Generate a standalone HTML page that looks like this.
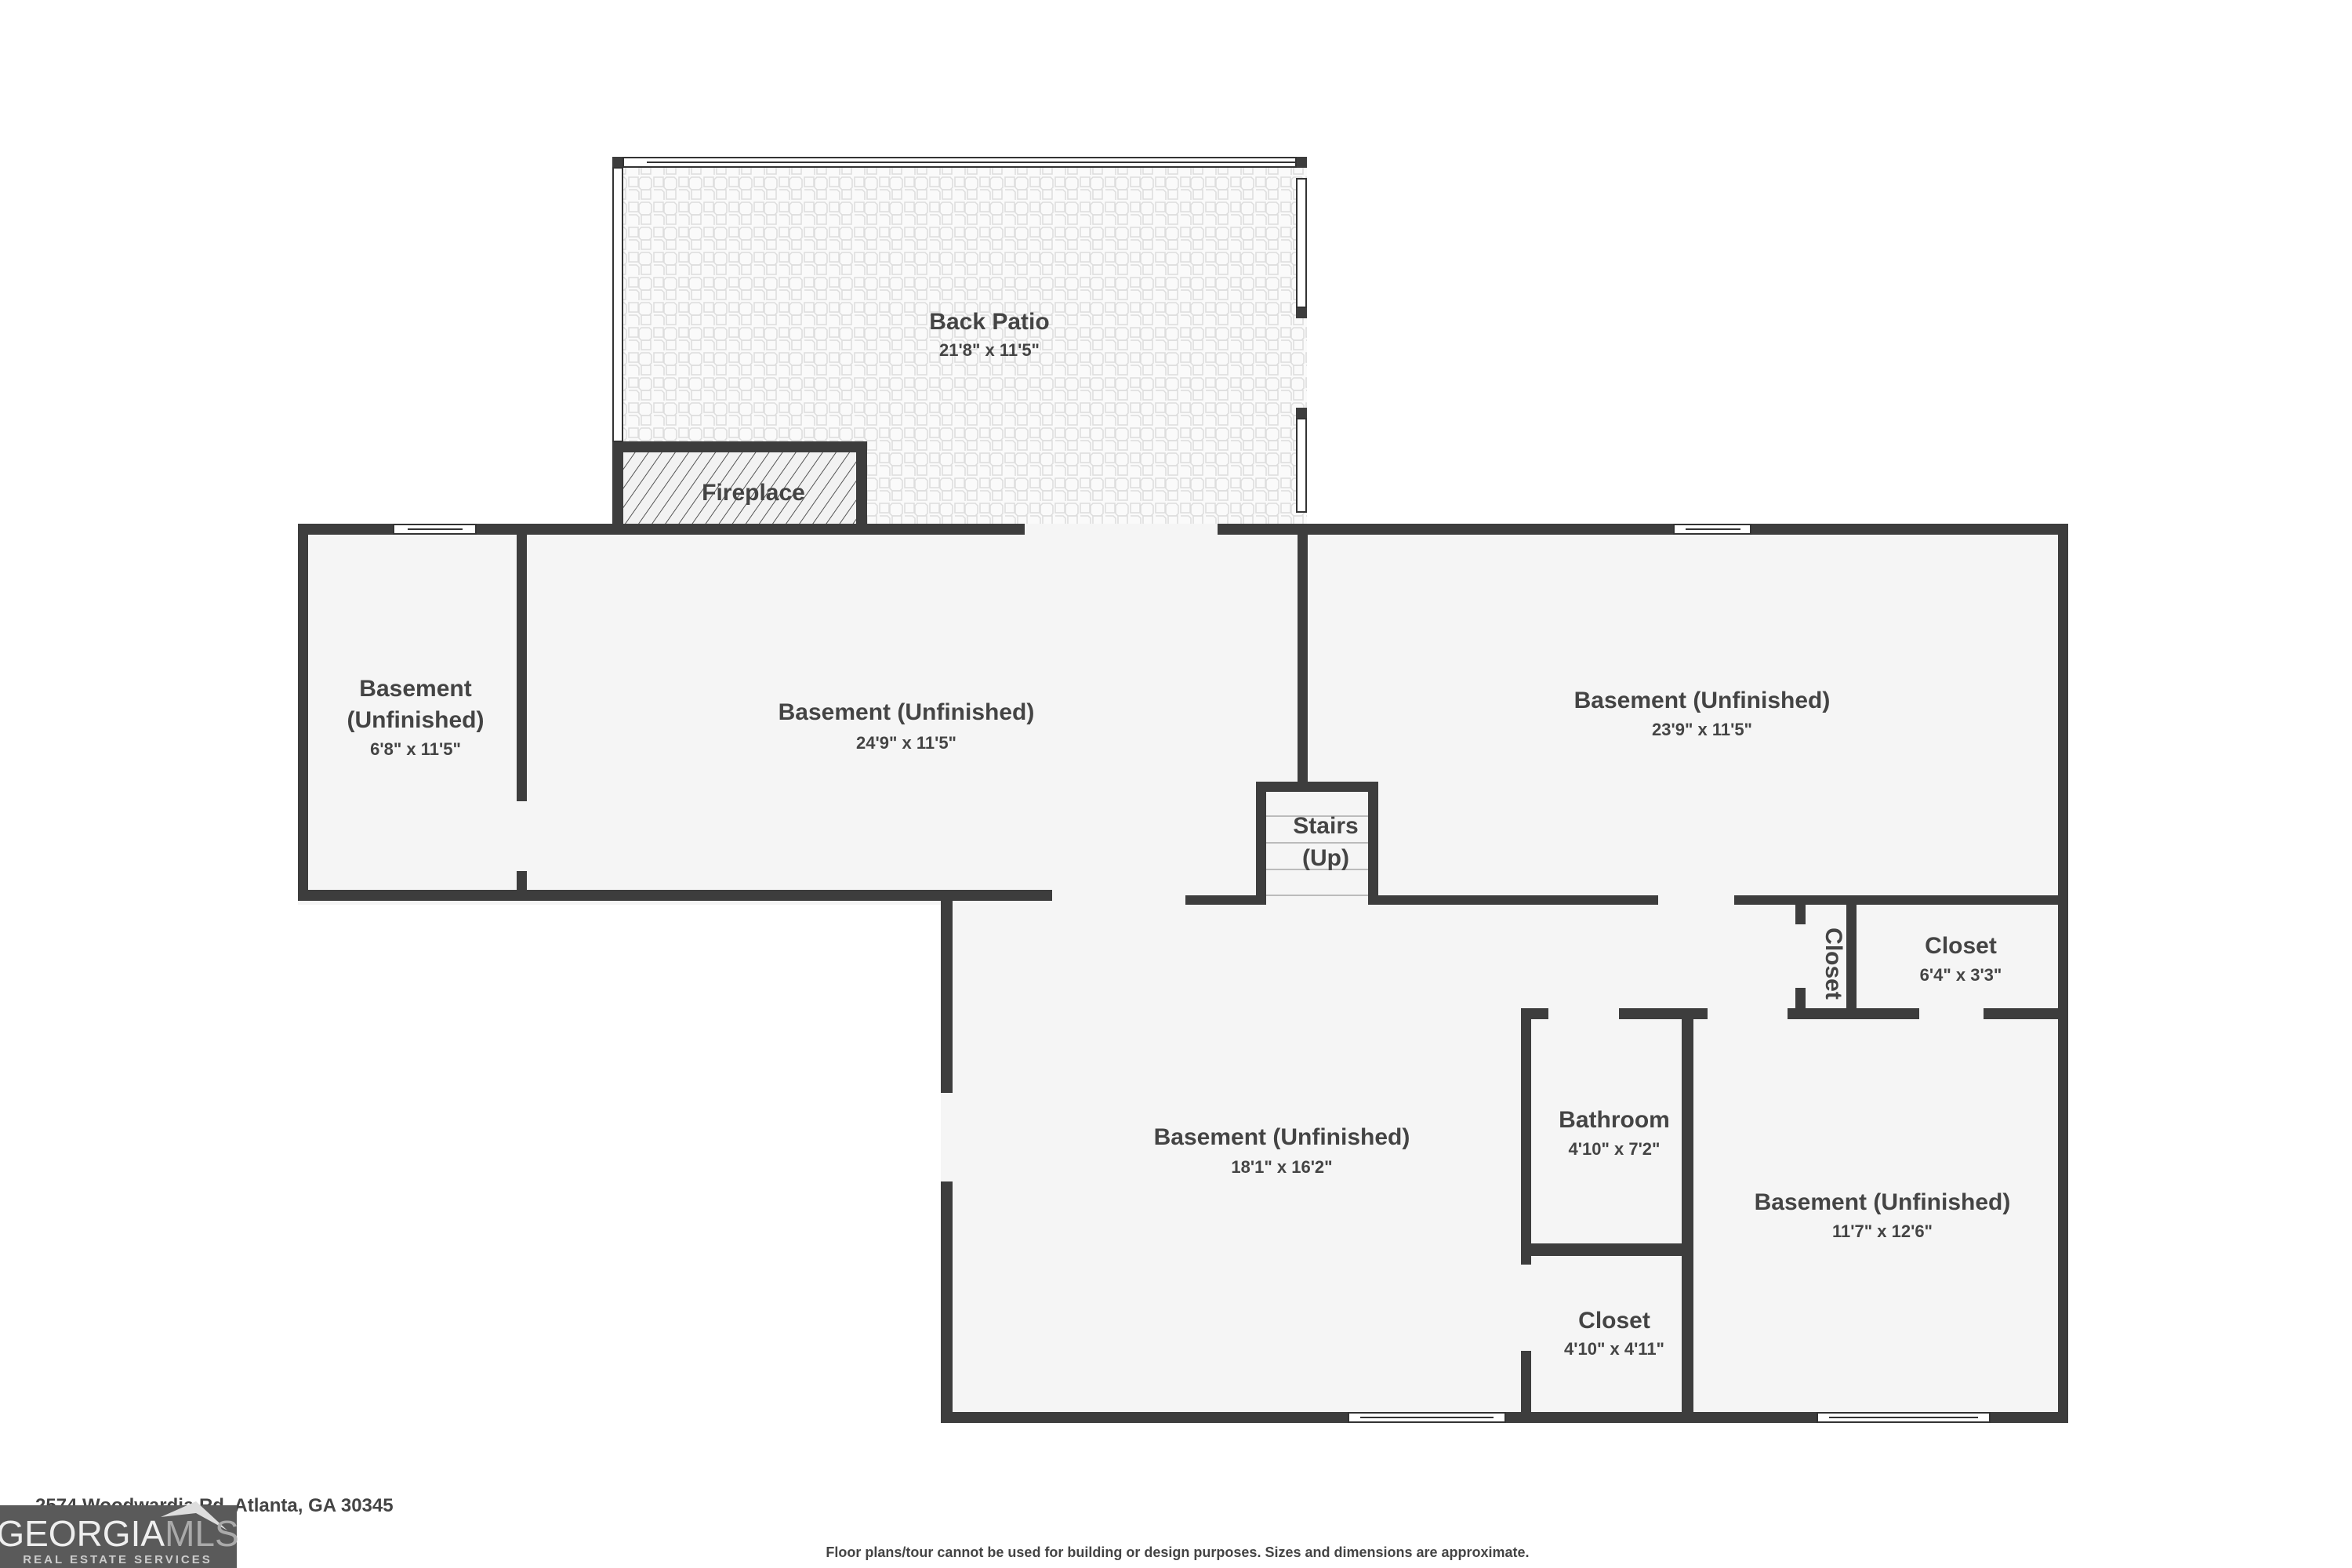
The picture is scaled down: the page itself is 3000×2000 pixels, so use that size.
<!DOCTYPE html>
<html><head><style>
html,body{margin:0;padding:0;background:#fff;}
svg{display:block;}
text{font-family:"Liberation Sans",sans-serif;font-weight:bold;fill:#444;text-anchor:middle;}
</style></head><body>
<svg width="3000" height="2000" viewBox="0 0 3000 2000" xmlns="http://www.w3.org/2000/svg">
<defs>
<pattern id="tile" width="32" height="32" patternUnits="userSpaceOnUse">
<rect width="32" height="32" fill="#fafafa"/>
<rect x="2" y="2" width="12" height="12" fill="none" stroke="#ddd" stroke-width="1.5"/>
<path d="M18 2 h10 l3 3 v10 l-3 3 h-10 l-3 -3 v-10z" fill="none" stroke="#ddd" stroke-width="1.5"/>
<rect x="18" y="18" width="12" height="12" fill="none" stroke="#ddd" stroke-width="1.5"/>
<path d="M2 18 h10 l3 3 v10" fill="none" stroke="#ddd" stroke-width="1.5"/>
</pattern>
<pattern id="hatch" width="14" height="14" patternUnits="userSpaceOnUse" patternTransform="rotate(35)">
<rect width="14" height="14" fill="#f2f2f2"/>
<line x1="0" y1="0" x2="0" y2="14" stroke="#555" stroke-width="2"/>
</pattern>
</defs>
<!-- floors -->
<rect x="781" y="200" width="886" height="480" fill="url(#tile)"/>
<rect x="380" y="668" width="2258" height="486" fill="#f5f5f5"/>
<rect x="1200" y="1142" width="1438" height="672" fill="#f5f5f5"/>
<g fill="#3d3d3d">
<!-- patio frame -->
<rect x="781" y="200" width="14" height="14"/>
<rect x="1653" y="200" width="14" height="14"/>
<rect x="1653" y="392" width="14" height="14"/>
<rect x="1653" y="520" width="14" height="14"/>
<rect x="781" y="563" width="14" height="117"/>
<!-- fireplace -->
<rect x="781" y="563" width="325" height="14"/>
<rect x="1092" y="563" width="14" height="117"/>
<!-- main top wall -->
<rect x="380" y="668" width="122" height="14"/>
<rect x="607" y="668" width="700" height="14"/>
<rect x="1553" y="668" width="582" height="14"/>
<rect x="2233" y="668" width="405" height="14"/>
<!-- outer left/right -->
<rect x="380" y="668" width="13" height="481"/>
<rect x="2625" y="668" width="13" height="1147"/>
<!-- A/B divider -->
<rect x="659" y="668" width="13" height="354"/>
<rect x="659" y="1111" width="13" height="38"/>
<!-- B/C divider -->
<rect x="1655" y="668" width="13" height="340"/>
<!-- stairs -->
<rect x="1602" y="997" width="156" height="13"/>
<rect x="1602" y="997" width="13" height="157"/>
<rect x="1745" y="997" width="13" height="157"/>
<!-- middle horizontal wall -->
<rect x="380" y="1135" width="962" height="14"/>
<rect x="1512" y="1142" width="103" height="12"/>
<rect x="1745" y="1142" width="370" height="12"/>
<rect x="2212" y="1142" width="426" height="12"/>
<!-- lower left wall -->
<rect x="1200" y="1142" width="15" height="252"/>
<rect x="1200" y="1507" width="15" height="308"/>
<!-- bottom wall -->
<rect x="1200" y="1801" width="520" height="14"/>
<rect x="1920" y="1801" width="398" height="14"/>
<rect x="2538" y="1801" width="100" height="14"/>
<!-- narrow closet -->
<rect x="2290" y="1142" width="13" height="37"/>
<rect x="2290" y="1260" width="13" height="40"/>
<rect x="2355" y="1142" width="13" height="158"/>
<!-- horizontal wall y 1286 -->
<rect x="1940" y="1286" width="35" height="14"/>
<rect x="2065" y="1286" width="113" height="14"/>
<rect x="2280" y="1286" width="168" height="14"/>
<rect x="2530" y="1286" width="108" height="14"/>
<!-- bathroom walls -->
<rect x="1940" y="1286" width="13" height="327"/>
<rect x="1940" y="1723" width="13" height="92"/>
<rect x="2145" y="1286" width="15" height="529"/>
<rect x="1940" y="1586" width="220" height="16"/>
</g>
<!-- fireplace hatch -->
<rect x="795" y="577" width="297" height="91" fill="url(#hatch)"/>
<!-- windows -->
<g fill="#fff" stroke="#333" stroke-width="2">
<rect x="795" y="201" width="858" height="12"/>
<line x1="825" y1="207" x2="1653" y2="207"/>
<rect x="782" y="214" width="12" height="349"/>
<rect x="1654" y="228" width="12" height="164"/>
<rect x="1654" y="534" width="12" height="119"/>
<rect x="502" y="669" width="105" height="12"/>
<line x1="520" y1="675" x2="590" y2="675"/>
<rect x="2135" y="669" width="98" height="12"/>
<line x1="2150" y1="675" x2="2220" y2="675"/>
<rect x="1720" y="1802" width="200" height="12"/>
<line x1="1735" y1="1808" x2="1905" y2="1808"/>
<rect x="2318" y="1802" width="220" height="12"/>
<line x1="2333" y1="1808" x2="2523" y2="1808"/>
</g>
<!-- stairs lines -->
<g stroke="#bbb" stroke-width="2">
<line x1="1615" y1="1041" x2="1745" y2="1041"/>
<line x1="1615" y1="1075" x2="1745" y2="1075"/>
<line x1="1615" y1="1109" x2="1745" y2="1109"/>
<line x1="1615" y1="1142" x2="1745" y2="1142"/>
</g>
<!-- labels -->
<text x="1262" y="420" font-size="30">Back Patio</text>
<text x="1262" y="454" font-size="22">21'8" x 11'5"</text>
<text x="961" y="638" font-size="30">Fireplace</text>
<text x="530" y="888" font-size="30">Basement</text>
<text x="530" y="928" font-size="30">(Unfinished)</text>
<text x="530" y="963" font-size="22">6'8" x 11'5"</text>
<text x="1156" y="918" font-size="30">Basement (Unfinished)</text>
<text x="1156" y="955" font-size="22">24'9" x 11'5"</text>
<text x="2171" y="903" font-size="30">Basement (Unfinished)</text>
<text x="2171" y="938" font-size="22">23'9" x 11'5"</text>
<text x="1691" y="1063" font-size="30">Stairs</text>
<text x="1691" y="1104" font-size="30">(Up)</text>
<text x="2329" y="1229" font-size="30" transform="rotate(90 2329 1229)">Closet</text>
<text x="2501" y="1216" font-size="30">Closet</text>
<text x="2501" y="1251" font-size="22">6'4" x 3'3"</text>
<text x="1635" y="1460" font-size="30">Basement (Unfinished)</text>
<text x="1635" y="1496" font-size="22">18'1" x 16'2"</text>
<text x="2059" y="1438" font-size="30">Bathroom</text>
<text x="2059" y="1473" font-size="22">4'10" x 7'2"</text>
<text x="2401" y="1543" font-size="30">Basement (Unfinished)</text>
<text x="2401" y="1578" font-size="22">11'7" x 12'6"</text>
<text x="2059" y="1694" font-size="30">Closet</text>
<text x="2059" y="1728" font-size="22">4'10" x 4'11"</text>
<text x="45" y="1928" font-size="24" style="text-anchor:start">2574 Woodwardia Rd, Atlanta, GA 30345</text>
<text x="1502" y="1986" font-size="18">Floor plans/tour cannot be used for building or design purposes. Sizes and dimensions are approximate.</text>
<!-- logo -->
<rect x="0" y="1920" width="302" height="80" fill="#5a5a5a"/>
<polygon points="205,1935 250,1915 290,1952 250,1930" fill="#ddd"/>
<text x="150" y="1972" font-size="46" style="fill:#eee;font-weight:normal">GEORGIA<tspan style="fill:#aaa">MLS</tspan></text>
<text x="150" y="1994" font-size="15" style="fill:#ccc;letter-spacing:3px">REAL ESTATE SERVICES</text>
</svg>
</body></html>
